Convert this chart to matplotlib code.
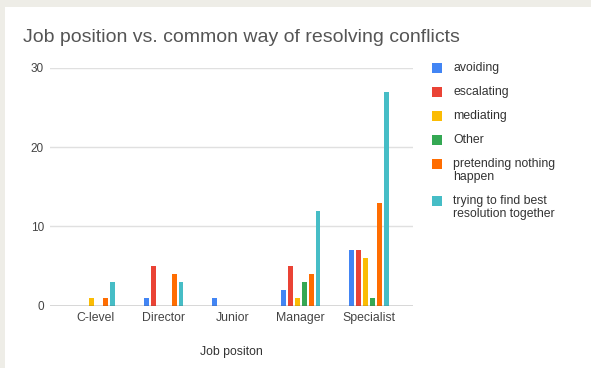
import matplotlib
matplotlib.use("Agg")
import matplotlib.pyplot as plt
from matplotlib.patches import Rectangle
import numpy as np

plt.rcParams['font.family'] = ['Liberation Sans', 'DejaVu Sans']

categories = ["C-level", "Director", "Junior", "Manager", "Specialist"]
series_names = ["avoiding", "escalating", "mediating", "Other",
                "pretending nothing\nhappen", "trying to find best\nresolution together"]
avoiding = [0, 1, 1, 2, 7]
escalating = [0, 5, 0, 5, 7]
mediating = [1, 0, 0, 1, 6]
other = [0, 0, 0, 3, 1]
pretending = [1, 4, 0, 4, 13]
trying = [3, 3, 0, 12, 27]
series_values = [avoiding, escalating, mediating, other, pretending, trying]
colors = ["#4285F4", "#EA4335", "#FBBC04", "#34A853", "#FF6D01", "#46BDC6"]
y_ticks = [0, 10, 20, 30]

W, H = 591, 368
fig = plt.figure(figsize=(W / 100, H / 100), dpi=100)
fig.patch.set_facecolor("#eeede7")
fig.patches.append(Rectangle((5 / W, 0), 1, 1 - 7 / H, transform=fig.transFigure,
                             facecolor="white", edgecolor="none", zorder=-5))

ax = fig.add_axes([50 / W, 1 - 305.5 / H, (413 - 50) / W, (305.5 - 68) / H])
ax.set_facecolor("none")

x = np.arange(len(categories))
step = 0.101
width = 0.072
n = len(series_values)
for i, (name, vals, c) in enumerate(zip(series_names, series_values, colors)):
    offs = (i - (n - 1) / 2) * step
    ax.bar(x + offs, vals, width=width, color=c, label=name, zorder=3)

ax.set_xlim(-0.66, 4.64)
ax.set_ylim(0, 30)
ax.set_yticks(y_ticks)
ax.set_xticks(x)
ax.set_xticklabels(categories)
ax.grid(axis="y", color="#e0e0e0", linewidth=1, zorder=0)
ax.axhline(0, color="#555555", linewidth=1, zorder=4)
for s in ax.spines.values():
    s.set_visible(False)
ax.tick_params(axis="both", length=0, colors="#444444")
ax.tick_params(axis="y", pad=4.3, labelsize=8.5)
ax.tick_params(axis="x", pad=4.5, labelsize=8.8)
ax.set_xlabel("Job positon", fontsize=8.8, color="#333333", labelpad=16)

fig.text(23 / W, 1 - 38 / H, "Job position vs. common way of resolving conflicts",
         fontsize=14, color="#555555", va="center", ha="left")

# legend: colour square beside each (possibly two-line) series name
px = lambda v: v / W
py = lambda v: 1 - v / H
row_y = 68
for name, c in zip(series_names, colors):
    fig.patches.append(Rectangle((px(431.5), py(row_y + 5)), 10 / W, 10 / H,
                                 transform=fig.transFigure, facecolor=c,
                                 edgecolor="none"))
    lines = name.split("\n")
    for k, line in enumerate(lines):
        fig.text(px(453.5), py(row_y + 13 * k), line, fontsize=8.8,
                 color="#333333", va="center", ha="left")
    row_y += 24 + 13 * (len(lines) - 1)

fig.savefig("out.png", dpi=100, facecolor=fig.get_facecolor())
